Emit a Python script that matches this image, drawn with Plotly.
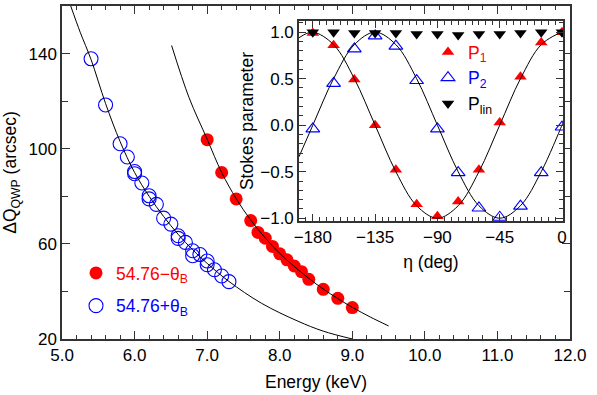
import plotly.graph_objects as go

# ---------------- data ----------------
# 54.76 - thetaB (red filled circles)
E_minus = [7.0, 7.2, 7.4, 7.6, 7.7, 7.8, 7.9, 8.0, 8.1, 8.2, 8.3, 8.4, 8.6, 8.8, 9.0]
Q_minus = [103.8, 90.0, 78.9, 69.8, 64.8, 62.4, 58.9, 55.8, 53.3, 50.7, 48.3, 45.1, 40.9, 37.1, 33.2]

# 54.76 + thetaB (blue open circles)
E_plus = [5.4, 5.6, 5.8, 5.9, 6.0, 6.0, 6.1, 6.2, 6.2, 6.3, 6.4, 6.5, 6.6, 6.6,
          6.7, 6.8, 6.8, 6.9, 7.0, 7.0, 7.1, 7.2, 7.3]
Q_plus = [137.8, 118.4, 102.1, 96.5, 90.4, 89.5, 85.6, 80.2, 78.9, 76.6, 70.8, 68.3, 63.4, 62.3,
          60.6, 57.1, 55.0, 55.5, 52.8, 51.2, 49.1, 46.5, 44.1]

# theory curves
E_curve_minus = [6.51, 6.75, 7.0, 7.2, 7.4, 7.6, 7.8, 8.0, 8.2, 8.4, 8.6, 8.8, 9.0, 9.25, 9.5]
Q_curve_minus = [143.4, 121.5, 104.0, 90.0, 79.0, 70.0, 62.5, 56.0, 50.5, 45.5, 41.0, 37.0, 33.3, 29.2, 25.5]
E_curve_plus = [5.12, 5.25, 5.4, 5.6, 5.8, 6.0, 6.2, 6.4, 6.6, 6.8, 7.0, 7.3, 7.75, 8.25, 8.6, 9.0]
Q_curve_plus = [160.0, 149.0, 137.5, 119.0, 103.0, 90.0, 80.0, 71.5, 64.0, 57.5, 51.8, 44.2, 35.0, 27.5, 23.3, 20.0]

# inset: Stokes parameters vs eta
eta = [-180, -165, -150, -135, -120, -105, -90, -75, -60, -45, -30, -15, 0]
P1 = [0.99, 0.86, 0.49, 0.0, -0.48, -0.85, -0.98, -0.82, -0.48, 0.03, 0.52, 0.89, 1.0]
P2 = [-0.04, 0.45, 0.82, 0.96, 0.85, 0.48, -0.04, -0.51, -0.89, -0.99, -0.87, -0.51, -0.02]
Plin = [1.0, 1.0, 0.99, 0.99, 0.99, 0.98, 0.98, 0.97, 0.98, 0.98, 0.99, 1.0, 1.0]

eta_curve = [-190, -180, -165, -150, -135, -120, -105, -90, -75, -60, -45, -30, -15, 0, 1]
P1_curve = [0.94, 1.0, 0.866, 0.5, 0.0, -0.5, -0.866, -1.0, -0.866, -0.5, 0.0, 0.5, 0.866, 1.0, 1.0]
P2_curve = [-0.34, 0.0, 0.5, 0.866, 1.0, 0.866, 0.5, 0.0, -0.5, -0.866, -1.0, -0.866, -0.5, 0.0, 0.035]

x_ticks = [5, 6, 7, 8, 9, 10, 11, 12]
x_ticktext = ["5.0", "6.0", "7.0", "8.0", "9.0", "10.0", "11.0", "12.0"]
y_ticks = [20, 60, 100, 140]
eta_ticks = [-180, -135, -90, -45, 0]
eta_ticktext = ["\u2212180", "\u2212135", "\u221290", "\u221245", "0"]
s_ticks = [-1.0, -0.5, 0.0, 0.5, 1.0]
s_ticktext = ["\u22121.0", "\u22120.5", "0.0", "0.5", "1.0"]

RED = "#ff0000"
BLUE = "#0000ff"
FONT = "Liberation Sans, Arial, sans-serif"

fig = go.Figure()

# main markers
fig.add_trace(go.Scatter(x=E_minus, y=Q_minus, mode="markers", xaxis="x", yaxis="y",
                         marker=dict(symbol="circle", size=13, color=RED),
                         name="<span style='color:#ff0000'>54.76\u2212\u03b8<sub>B</sub></span>",
                         legend="legend", legendgroup="a"))
fig.add_trace(go.Scatter(x=E_plus, y=Q_plus, mode="markers", xaxis="x", yaxis="y",
                         marker=dict(symbol="circle-open", size=14, color=BLUE, line=dict(width=1.1, color=BLUE)),
                         name="<span style='color:#0000ff'>54.76+\u03b8<sub>B</sub></span>",
                         legend="legend", legendgroup="b"))
# main curves
fig.add_trace(go.Scatter(x=E_curve_minus, y=Q_curve_minus, mode="lines", xaxis="x", yaxis="y",
                         line=dict(color="black", width=1, shape="spline"), showlegend=False))
fig.add_trace(go.Scatter(x=E_curve_plus, y=Q_curve_plus, mode="lines", xaxis="x", yaxis="y",
                         line=dict(color="black", width=1, shape="spline"), showlegend=False))

# inset markers
fig.add_trace(go.Scatter(x=eta, y=P1, mode="markers", xaxis="x2", yaxis="y2",
                         marker=dict(symbol="triangle-up", size=11, color=RED),
                         name="<span style='color:#ff0000'>P<sub>1</sub></span>",
                         legend="legend2", legendgroup="c"))
fig.add_trace(go.Scatter(x=eta, y=P2, mode="markers", xaxis="x2", yaxis="y2",
                         marker=dict(symbol="triangle-up-open", size=12, color=BLUE, line=dict(width=1.1, color=BLUE)),
                         name="<span style='color:#0000ff'>P<sub>2</sub></span>",
                         legend="legend2", legendgroup="d"))
fig.add_trace(go.Scatter(x=eta, y=Plin, mode="markers", xaxis="x2", yaxis="y2",
                         marker=dict(symbol="triangle-down", size=11, color="black"),
                         name="P<sub>lin</sub>",
                         legend="legend2", legendgroup="e"))
# inset curves
fig.add_trace(go.Scatter(x=eta_curve, y=P1_curve, mode="lines", xaxis="x2", yaxis="y2",
                         line=dict(color="black", width=1, shape="spline"), showlegend=False))
fig.add_trace(go.Scatter(x=eta_curve, y=P2_curve, mode="lines", xaxis="x2", yaxis="y2",
                         line=dict(color="black", width=1, shape="spline"), showlegend=False))

AXC = "#333333"
tickfont = dict(family=FONT, size=17, color="black")
titlefont = dict(family=FONT, size=17.5, color="black")


def axis_common():
    return dict(ticks="inside", tickwidth=1.2, tickcolor=AXC, showline=True, linecolor=AXC,
                linewidth=1.5, mirror="allticks", showgrid=False, zeroline=False,
                tickfont=tickfont, automargin=False)


fig.update_layout(
    width=597, height=395,
    margin=dict(l=0, r=0, t=0, b=0, autoexpand=False),
    paper_bgcolor="white", plot_bgcolor="white",
    font=dict(family=FONT, size=17, color="black"),
    xaxis=dict(domain=[0.1039, 0.9548], range=[5, 12], anchor="y",
               tickvals=x_ticks, ticktext=x_ticktext, ticklen=8,
               minor=dict(dtick=0.2, tick0=5, ticks="inside", ticklen=4, tickwidth=1, tickcolor=AXC, showgrid=False),
               title=dict(text="Energy (keV)", font=titlefont, standoff=12), **axis_common()),
    yaxis=dict(domain=[0.1418, 0.9848], range=[20, 160], anchor="x",
               tickvals=y_ticks, ticklen=8,
               minor=dict(dtick=20, tick0=20, ticks="inside", ticklen=6, tickwidth=1, tickcolor=AXC, showgrid=False),
               title=dict(text="\u0394Q<sub>QWP</sub> (arcsec)", font=titlefont, standoff=7), **axis_common()),
    xaxis2=dict(domain=[0.5008, 0.9430], range=[-190, 0.7], anchor="y2",
                tickvals=eta_ticks, ticktext=eta_ticktext, ticklen=7,
                minor=dict(dtick=5, tick0=-180, ticks="inside", ticklen=4, tickwidth=1, tickcolor=AXC, showgrid=False),
                title=dict(text="\u03b7 (deg)", font=titlefont, standoff=10), **axis_common()),
    yaxis2=dict(domain=[0.4405, 0.9468], range=[-1.03, 1.12], anchor="x2",
                tickvals=s_ticks, ticktext=s_ticktext, ticklen=7,
                minor=dict(dtick=0.1, tick0=0, ticks="inside", ticklen=4, tickwidth=1, tickcolor=AXC, showgrid=False),
                title=dict(text="Stokes parameter", font=titlefont, standoff=2), **axis_common()),
    legend=dict(x=76 / 597, y=1 - 255 / 395, xanchor="left", yanchor="top",
                bgcolor="rgba(0,0,0,0)", borderwidth=0, font=dict(family=FONT, size=17.5),
                itemsizing="trace", tracegroupgap=7, traceorder="grouped"),
    legend2=dict(x=428 / 597, y=1 - 34 / 395, xanchor="left", yanchor="top",
                 bgcolor="rgba(0,0,0,0)", borderwidth=0, font=dict(family=FONT, size=17.5),
                 itemsizing="trace", tracegroupgap=0, traceorder="grouped"),
)

fig.write_html("out.html", config={"displayModeBar": False},
               post_script="document.body.style.margin='0px';document.body.style.padding='0px';")
